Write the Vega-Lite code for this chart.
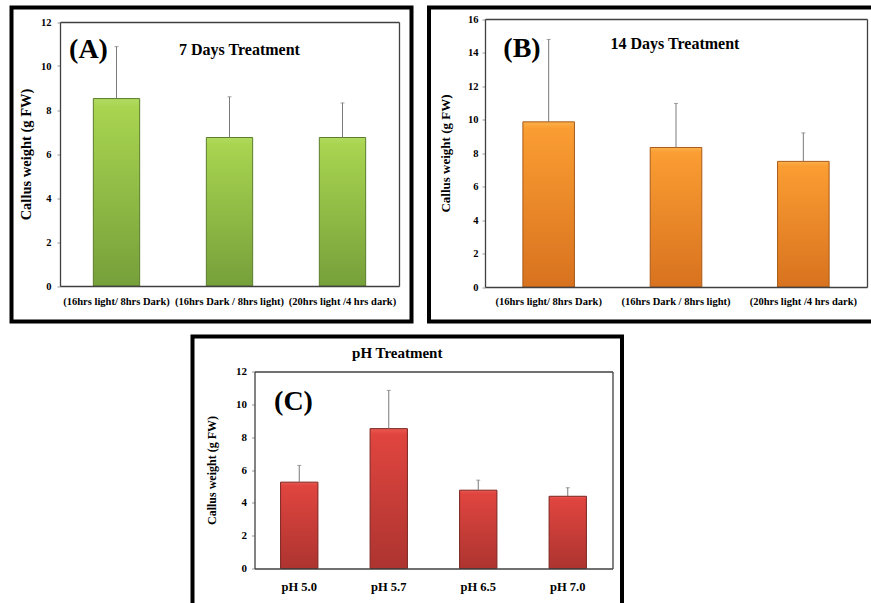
{
  "$schema": "https://vega.github.io/schema/vega-lite/v6.json",
  "padding": {"left": 9.5, "top": 5.5, "right": 0, "bottom": 0},
  "background": "white",
  "config": {
    "font": "Liberation Serif",
    "view": {"stroke": null},
    "axis": {"labelFont": "Liberation Serif", "titleFont": "Liberation Serif", "labelFontWeight": "bold", "titleFontWeight": "bold", "labelColor": "#000", "titleColor": "#000", "domainColor": "#404040", "domainWidth": 1.3, "tickColor": "#999", "grid": false}
  },
  "spacing": 11,
  "vconcat": [
    {
      "spacing": 13.5,
      "hconcat": [
        {
          "width": 400, "height": 314,
          "view": {"stroke": "#000", "strokeWidth": 4},
          "data": {"values": [
            {"treatment": "(16hrs light/ 8hrs Dark)", "mean": 8.52, "upper": 10.88},
            {"treatment": "(16hrs Dark / 8hrs light)", "mean": 6.75, "upper": 8.6},
            {"treatment": "(20hrs light /4 hrs dark)", "mean": 6.75, "upper": 8.32}
          ]},
          "resolve": {"axis": {"x": "independent", "y": "independent"}},
          "layer": [
            {
              "mark": {"type": "bar", "stroke": "#5b7d2c", "strokeWidth": 1, "color": {"gradient": "linear", "x1": 0, "y1": 0, "x2": 0, "y2": 1, "stops": [{"offset": 0, "color": "#b0da60"}, {"offset": 0.05, "color": "#a8d450"}, {"offset": 1, "color": "#76a03a"}]}},
              "encoding": {
                "x": {"field": "treatment", "type": "nominal", "sort": null, "scale": {"range": [48.5, 387.5], "paddingInner": 0.59, "paddingOuter": 0.295},
                  "axis": {"orient": "bottom", "offset": -35.5, "title": null, "labelAngle": 0, "labelFontSize": 10.5, "labelPadding": 10, "ticks": false, "labelOverlap": false, "labelLimit": 200, "zindex": 1}},
                "y": {"field": "mean", "type": "quantitative", "scale": {"domain": [0, 12], "range": [278.5, 14.5], "nice": false},
                  "axis": {"orient": "left", "offset": -48.5, "values": [0, 2, 4, 6, 8, 10, 12], "labelFontSize": 10.5, "tickSize": 3, "labelPadding": 6, "title": "Callus weight (g FW)", "titleFontSize": 14.5, "titlePadding": 7}}
              }
            },
            {
              "mark": {"type": "rule", "color": "#7a7a7a", "strokeWidth": 1},
              "encoding": {
                "x": {"field": "treatment", "type": "nominal", "sort": null, "axis": {"orient": "top", "offset": -14.5, "labels": false, "ticks": false, "title": null}},
                "y": {"field": "mean", "type": "quantitative", "axis": {"orient": "right", "offset": -12.5, "labels": false, "ticks": false, "title": null}},
                "y2": {"field": "upper"}
              }
            },
            {
              "mark": {"type": "tick", "color": "#7a7a7a", "thickness": 1, "size": 4},
              "encoding": {
                "x": {"field": "treatment", "type": "nominal", "sort": null, "axis": null},
                "y": {"field": "upper", "type": "quantitative", "axis": null}
              }
            },
            {
              "data": {"values": [{}]},
              "mark": {"type": "text", "text": "(A)", "fontSize": 28, "fontWeight": "bold", "dx": -28, "baseline": "middle"},
              "encoding": {"x": {"datum": "(16hrs light/ 8hrs Dark)", "type": "nominal", "axis": null}, "y": {"datum": 10.72, "type": "quantitative", "axis": null}}
            },
            {
              "data": {"values": [{}]},
              "mark": {"type": "text", "text": "7 Days Treatment", "fontSize": 16, "fontWeight": "bold", "dx": 10, "baseline": "middle"},
              "encoding": {"x": {"datum": "(16hrs Dark / 8hrs light)", "type": "nominal", "axis": null}, "y": {"datum": 10.74, "type": "quantitative", "axis": null}}
            }
          ]
        },
        {
          "width": 446, "height": 314,
          "view": {"stroke": "#000", "strokeWidth": 4},
          "data": {"values": [
            {"treatment": "(16hrs light/ 8hrs Dark)", "mean": 9.86, "upper": 14.78},
            {"treatment": "(16hrs Dark / 8hrs light)", "mean": 8.33, "upper": 10.96},
            {"treatment": "(20hrs light /4 hrs dark)", "mean": 7.5, "upper": 9.2}
          ]},
          "resolve": {"axis": {"x": "independent", "y": "independent"}},
          "layer": [
            {
              "mark": {"type": "bar", "stroke": "#a85a18", "strokeWidth": 1, "color": {"gradient": "linear", "x1": 0, "y1": 0, "x2": 0, "y2": 1, "stops": [{"offset": 0, "color": "#fbb04a"}, {"offset": 0.04, "color": "#fa9d32"}, {"offset": 1, "color": "#d8721f"}]}},
              "encoding": {
                "x": {"field": "treatment", "type": "nominal", "sort": null, "scale": {"range": [56, 438], "paddingInner": 0.595, "paddingOuter": 0.2975},
                  "axis": {"orient": "bottom", "offset": -34.5, "title": null, "labelAngle": 0, "labelFontSize": 10.5, "labelPadding": 9, "ticks": false, "labelOverlap": false, "labelLimit": 200, "zindex": 1}},
                "y": {"field": "mean", "type": "quantitative", "scale": {"domain": [0, 16], "range": [279.5, 11.5], "nice": false},
                  "axis": {"orient": "left", "offset": -56, "values": [0, 2, 4, 6, 8, 10, 12, 14, 16], "labelFontSize": 10.5, "tickSize": 3, "labelPadding": 4, "title": "Callus weight (g FW)", "titleFontSize": 13, "titlePadding": 15}}
              }
            },
            {
              "mark": {"type": "rule", "color": "#7a7a7a", "strokeWidth": 1},
              "encoding": {
                "x": {"field": "treatment", "type": "nominal", "sort": null, "axis": {"orient": "top", "offset": -11.5, "labels": false, "ticks": false, "title": null}},
                "y": {"field": "mean", "type": "quantitative", "axis": {"orient": "right", "offset": -8, "labels": false, "ticks": false, "title": null}},
                "y2": {"field": "upper"}
              }
            },
            {
              "mark": {"type": "tick", "color": "#7a7a7a", "thickness": 1, "size": 4},
              "encoding": {
                "x": {"field": "treatment", "type": "nominal", "sort": null, "axis": null},
                "y": {"field": "upper", "type": "quantitative", "axis": null}
              }
            },
            {
              "data": {"values": [{}]},
              "mark": {"type": "text", "text": "(B)", "fontSize": 28, "fontWeight": "bold", "dx": -26.7, "baseline": "middle"},
              "encoding": {"x": {"datum": "(16hrs light/ 8hrs Dark)", "type": "nominal", "axis": null}, "y": {"datum": 14.23, "type": "quantitative", "axis": null}}
            },
            {
              "data": {"values": [{}]},
              "mark": {"type": "text", "text": "14 Days Treatment", "fontSize": 16, "fontWeight": "bold", "dx": -1, "baseline": "middle"},
              "encoding": {"x": {"datum": "(16hrs Dark / 8hrs light)", "type": "nominal", "axis": null}, "y": {"datum": 14.49, "type": "quantitative", "axis": null}}
            }
          ]
        }
      ]
    },
    {
      "spacing": 0,
      "hconcat": [
        {
          "width": 178.5, "height": 20,
          "view": {"stroke": null},
          "data": {"values": []},
          "mark": "point",
          "encoding": {}
        },
        {
          "width": 429.5, "height": 270,
          "view": {"stroke": "#000", "strokeWidth": 4},
          "data": {"values": [
            {"pH": "pH 5.0", "mean": 5.26, "upper": 6.28},
            {"pH": "pH 5.7", "mean": 8.52, "upper": 10.85},
            {"pH": "pH 6.5", "mean": 4.77, "upper": 5.38},
            {"pH": "pH 7.0", "mean": 4.4, "upper": 4.92}
          ]},
          "resolve": {"axis": {"x": "independent", "y": "independent"}},
          "layer": [
            {
              "mark": {"type": "bar", "stroke": "#7a2420", "strokeWidth": 1, "color": {"gradient": "linear", "x1": 0, "y1": 0, "x2": 0, "y2": 1, "stops": [{"offset": 0, "color": "#ea5a52"}, {"offset": 0.04, "color": "#e0453f"}, {"offset": 1, "color": "#ad3430"}]}},
              "encoding": {
                "x": {"field": "pH", "type": "nominal", "sort": null, "scale": {"range": [62, 420], "paddingInner": 0.583, "paddingOuter": 0.2915},
                  "axis": {"orient": "bottom", "offset": -38, "title": null, "labelAngle": 0, "labelFontSize": 12.5, "labelPadding": 12, "ticks": false, "labelOverlap": false, "zindex": 1}},
                "y": {"field": "mean", "type": "quantitative", "scale": {"domain": [0, 12], "range": [232, 35], "nice": false},
                  "axis": {"orient": "left", "offset": -62, "values": [0, 2, 4, 6, 8, 10, 12], "labelFontSize": 11, "tickSize": 3, "labelPadding": 5, "title": "Callus weight (g FW)", "titleFontSize": 12, "titlePadding": 17}}
              }
            },
            {
              "mark": {"type": "rule", "color": "#7a7a7a", "strokeWidth": 1},
              "encoding": {
                "x": {"field": "pH", "type": "nominal", "sort": null, "axis": {"orient": "top", "offset": -35, "labels": false, "ticks": false, "title": null}},
                "y": {"field": "mean", "type": "quantitative", "axis": {"orient": "right", "offset": -9.5, "labels": false, "ticks": false, "title": null}},
                "y2": {"field": "upper"}
              }
            },
            {
              "mark": {"type": "tick", "color": "#7a7a7a", "thickness": 1, "size": 4},
              "encoding": {
                "x": {"field": "pH", "type": "nominal", "sort": null, "axis": null},
                "y": {"field": "upper", "type": "quantitative", "axis": null}
              }
            },
            {
              "data": {"values": [{}]},
              "mark": {"type": "text", "text": "(C)", "fontSize": 28, "fontWeight": "bold", "dx": -5.75, "baseline": "middle"},
              "encoding": {"x": {"datum": "pH 5.0", "type": "nominal", "axis": null}, "y": {"datum": 10.13, "type": "quantitative", "axis": null}}
            },
            {
              "data": {"values": [{}]},
              "mark": {"type": "text", "text": "pH Treatment", "fontSize": 15, "fontWeight": "bold", "dx": 8.5, "baseline": "middle"},
              "encoding": {"x": {"datum": "pH 5.7", "type": "nominal", "axis": null}, "y": {"datum": 13.1, "type": "quantitative", "axis": null}}
            }
          ]
        }
      ]
    }
  ]
}
